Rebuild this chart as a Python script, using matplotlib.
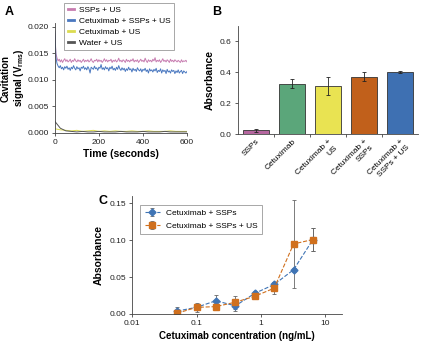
import numpy as np
import matplotlib
matplotlib.use("Agg")
import matplotlib.pyplot as plt

plt.rcParams['font.family'] = ['Liberation Sans', 'DejaVu Sans']
plt.rcParams['font.size'] = 6

# ---- panel A: cavitation signal over time
ssps_us = [0.0188, 0.0150, 0.0141, 0.0136, 0.0139, 0.0134, 0.0138, 0.0133, 0.0137, 0.0140,
           0.0135, 0.0138, 0.0134, 0.0136, 0.0139, 0.0133, 0.0137, 0.0135, 0.0140, 0.0136,
           0.0134, 0.0138, 0.0135, 0.0137, 0.0133, 0.0136, 0.0139, 0.0134, 0.0137, 0.0135,
           0.0138, 0.0134, 0.0136, 0.0140, 0.0135, 0.0133, 0.0137, 0.0136, 0.0139, 0.0134,
           0.0138, 0.0135, 0.0137, 0.0133, 0.0136, 0.0140, 0.0135, 0.0138, 0.0134, 0.0137,
           0.0136, 0.0139, 0.0133, 0.0137, 0.0135, 0.0138, 0.0134, 0.0136, 0.0141, 0.0135,
           0.0137, 0.0134, 0.0138, 0.0136, 0.0133, 0.0139, 0.0135, 0.0137, 0.0134, 0.0138,
           0.0136, 0.0140, 0.0134, 0.0137, 0.0135, 0.0138, 0.0133, 0.0136, 0.0139, 0.0135,
           0.0137, 0.0134, 0.0141, 0.0136, 0.0133, 0.0138, 0.0135, 0.0137, 0.0134, 0.0139,
           0.0136, 0.0142, 0.0134, 0.0137, 0.0135, 0.0138, 0.0133, 0.0136, 0.0140, 0.0135,
           0.0137, 0.0134, 0.0138, 0.0136, 0.0133, 0.0139, 0.0135, 0.0137, 0.0134, 0.0138,
           0.0136, 0.0134, 0.0137, 0.0135, 0.0133, 0.0138, 0.0134, 0.0136, 0.0135, 0.0137,
           0.0134]
cet_ssps_us = [0.0192, 0.0142, 0.0131, 0.0126, 0.0123, 0.0127, 0.0121, 0.0124, 0.0119, 0.0125,
               0.0122, 0.0126, 0.0120, 0.0123, 0.0118, 0.0124, 0.0121, 0.0127, 0.0122, 0.0119,
               0.0125, 0.0121, 0.0123, 0.0117, 0.0124, 0.0122, 0.0126, 0.0120, 0.0123, 0.0119,
               0.0125, 0.0121, 0.0113, 0.0124, 0.0122, 0.0120, 0.0126, 0.0121, 0.0123, 0.0118,
               0.0124, 0.0122, 0.0129, 0.0120, 0.0123, 0.0119, 0.0125, 0.0121, 0.0123, 0.0117,
               0.0124, 0.0121, 0.0126, 0.0119, 0.0122, 0.0118, 0.0124, 0.0120, 0.0127, 0.0121,
               0.0118, 0.0123, 0.0119, 0.0122, 0.0116, 0.0121, 0.0118, 0.0124, 0.0119, 0.0121,
               0.0115, 0.0122, 0.0118, 0.0120, 0.0116, 0.0123, 0.0119, 0.0117, 0.0121, 0.0115,
               0.0120, 0.0118, 0.0122, 0.0116, 0.0119, 0.0113, 0.0121, 0.0117, 0.0119, 0.0115,
               0.0120, 0.0117, 0.0122, 0.0114, 0.0118, 0.0116, 0.0121, 0.0113, 0.0119, 0.0116,
               0.0118, 0.0112, 0.0120, 0.0115, 0.0117, 0.0113, 0.0119, 0.0116, 0.0118, 0.0112,
               0.0117, 0.0114, 0.0119, 0.0113, 0.0116, 0.0118, 0.0112, 0.0117, 0.0115, 0.0113,
               0.0116]
cet_us = [0.0008, 0.0006, 0.0005, 0.0004, 0.0005, 0.0003, 0.0004, 0.0005, 0.0003, 0.0004,
          0.0003, 0.0004, 0.0003, 0.0003, 0.0004, 0.0003, 0.0003, 0.0004, 0.0003, 0.0003,
          0.0003, 0.0004, 0.0003, 0.0003, 0.0003]
water_us = [0.0022, 0.0009, 0.0004, 0.0003, 0.0002, 0.0003, 0.0002, 0.0002, 0.0003, 0.0002,
            0.0002, 0.0002, 0.0003, 0.0002, 0.0002, 0.0002, 0.0003, 0.0002, 0.0002, 0.0002,
            0.0003, 0.0002, 0.0002, 0.0002, 0.0002]

# ---- panel B: absorbance by treatment
b_labels = ["SSPs", "Cetuximab", "Cetuximab +\nUS", "Cetuximab +\nSSPs", "Cetuximab +\nSSPs + US"]
b_values = [0.025, 0.325, 0.310, 0.370, 0.400]
b_errors = [0.010, 0.030, 0.060, 0.028, 0.005]
b_colors = ["#b5669f", "#5ba67a", "#e9e352", "#c1601b", "#3e70b2"]

# ---- panel C: absorbance vs cetuximab concentration
conc = [0.05, 0.1, 0.2, 0.4, 0.8, 1.6, 3.2, 6.4]
abs_ssps = [0.004, 0.009, 0.018, 0.011, 0.028, 0.040, 0.060, 0.101]
err_ssps = [0.006, 0.004, 0.008, 0.007, 0.003, 0.004, 0.003, 0.016]
abs_ssps_us = [0.001, 0.009, 0.010, 0.016, 0.024, 0.035, 0.095, 0.101]
err_ssps_us = [0.002, 0.006, 0.004, 0.009, 0.003, 0.008, 0.060, 0.016]

fig = plt.figure(figsize=(4.25, 3.41), dpi=100)

# A
axA = fig.add_axes([0.129, 0.610, 0.311, 0.322])
t1 = np.linspace(0, 600, len(ssps_us))
t2 = np.linspace(0, 600, len(cet_us))
axA.plot(t1, ssps_us, color="#c77cb0", lw=0.7, label="SSPs + US")
axA.plot(t1, cet_ssps_us, color="#4a78c0", lw=0.7, label="Cetuximab + SSPs + US")
axA.plot(t2, cet_us, color="#dcdc50", lw=0.7, label="Cetuximab + US")
axA.plot(t2, water_us, color="#555555", lw=0.7, label="Water + US")
axA.set_xlim(0, 600)
axA.set_ylim(0, 0.0207)
axA.set_xticks([0, 200, 400, 600])
axA.set_yticks([0, 0.005, 0.010, 0.015, 0.020])
axA.set_yticklabels(["0.000", "0.005", "0.010", "0.015", "0.020"])
axA.set_xlabel("Time (seconds)", fontsize=7.5, fontweight="bold", labelpad=2)
axA.set_ylabel("Cavitation\nsignal (V$_{\\mathregular{rms}}$)", fontsize=7,
               fontweight="bold", labelpad=1, linespacing=1.1)
leg = axA.legend(loc="upper right", bbox_to_anchor=(0.93, 1.22), fontsize=6,
                 handlelength=0.8, handletextpad=0.5, borderpad=0.4, labelspacing=0.35,
                 fancybox=False, edgecolor="#999999", framealpha=1)
leg.get_frame().set_linewidth(0.6)
for line in leg.get_lines():
    line.set_linewidth(2)

# B
axB = fig.add_axes([0.560, 0.607, 0.4235, 0.3175])
xb = np.arange(len(b_values))
axB.bar(xb, b_values, width=0.72, color=b_colors, edgecolor="#333333", linewidth=0.6,
        yerr=b_errors, error_kw=dict(ecolor="#222222", elinewidth=0.6, capsize=1.5, capthick=0.6))
axB.set_xlim(-0.5, len(b_values) - 0.5)
axB.set_ylim(0, 0.7)
axB.set_yticks([0, 0.2, 0.4, 0.6])
axB.set_yticklabels(["0.0", "0.2", "0.4", "0.6"])
axB.set_xticks(np.arange(len(b_values) - 1) + 0.5)
axB.set_xticklabels([])
axB.set_xticks(xb, minor=True)
axB.set_xticklabels(b_labels, minor=True, rotation=45, ha="right", rotation_mode="anchor",
                    fontsize=6)
axB.tick_params(axis="x", which="minor", length=0, pad=3)
axB.set_ylabel("Absorbance", fontsize=7.5, fontweight="bold", labelpad=4)

# C
axC = fig.add_axes([0.3106, 0.0792, 0.494, 0.346])
axC.errorbar(conc, abs_ssps, yerr=err_ssps, color="#3f74b5", ecolor="#666666", elinewidth=0.6,
             capsize=1.3, capthick=0.6, marker="D", markersize=3.5, ls="--", lw=0.8,
             label="Cetuximab + SSPs")
axC.errorbar(conc, abs_ssps_us, yerr=err_ssps_us, color="#d0701e", ecolor="#666666",
             elinewidth=0.6, capsize=1.3, capthick=0.6, marker="s", markersize=4.5, ls="--",
             lw=0.8, label="Cetuximab + SSPs + US")
axC.set_xscale("log")
axC.set_xlim(0.01, 18)
axC.set_ylim(0, 0.16)
axC.set_xticks([0.01, 0.1, 1, 10])
axC.set_xticklabels(["0.01", "0.1", "1", "10"])
axC.minorticks_off()
axC.set_yticks([0, 0.05, 0.10, 0.15])
axC.set_yticklabels(["0.00", "0.05", "0.10", "0.15"])
axC.set_xlabel("Cetuximab concentration (ng/mL)", fontsize=7, fontweight="bold", labelpad=3)
axC.set_ylabel("Absorbance", fontsize=7.5, fontweight="bold", labelpad=4)
legC = axC.legend(loc="upper left", bbox_to_anchor=(0.02, 0.96), fontsize=6, handlelength=1.8,
                  borderpad=0.5, labelspacing=0.6, fancybox=False, edgecolor="#999999",
                  framealpha=1)
legC.get_frame().set_linewidth(0.6)

for ax in (axA, axB, axC):
    ax.spines["top"].set_visible(False)
    ax.spines["right"].set_visible(False)
    for s in ("left", "bottom"):
        ax.spines[s].set_linewidth(0.6)
        ax.spines[s].set_color("#444444")
    ax.tick_params(which="major", length=2.5, width=0.6, color="#444444", pad=2,
                   labelsize=6, labelcolor="#222222")

fig.text(0.012, 0.965, "A", fontsize=9, fontweight="bold", va="center")
fig.text(0.500, 0.965, "B", fontsize=9, fontweight="bold", va="center")
fig.text(0.232, 0.410, "C", fontsize=9, fontweight="bold", va="center")

fig.savefig("out.png", dpi=100)
